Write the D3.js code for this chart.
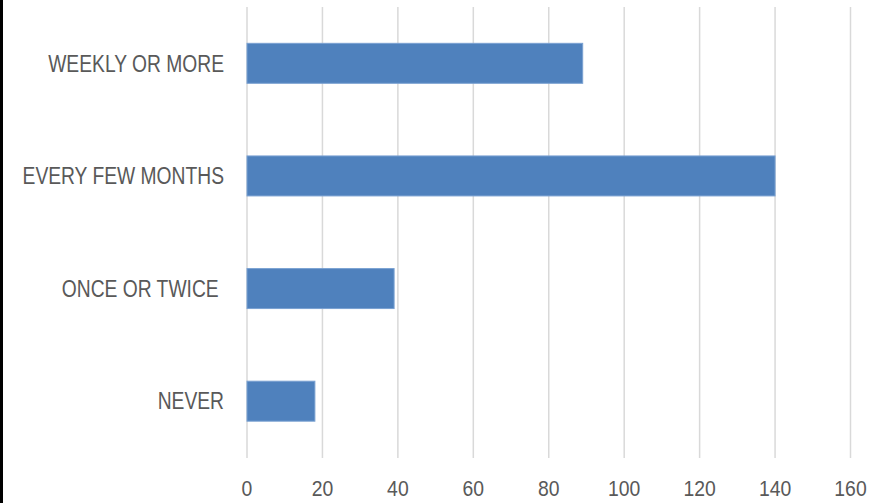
<!DOCTYPE html>
<html>
<head>
<meta charset="utf-8">
<script src="https://cdn.jsdelivr.net/npm/d3@7"></script>
<style>
  body { margin: 0; background: #fff; }
  text { font-family: "Liberation Sans", sans-serif; fill: #595959; white-space: pre; }
</style>
</head>
<body>
<script>
// bar chart data
const categories = ["WEEKLY OR MORE", "EVERY FEW MONTHS", "ONCE OR TWICE ", "NEVER"];
const values = [89, 140, 39, 18];
const ticks = [0, 20, 40, 60, 80, 100, 120, 140, 160];

const width = 889, height = 503;

const svg = d3.select("body").append("svg")
    .attr("width", width)
    .attr("height", height);

// left border line
svg.append("rect")
    .attr("x", 0).attr("y", 0)
    .attr("width", 3).attr("height", height)
    .style("fill", "#000");

const x = d3.scaleLinear().domain([0, 160]).range([247, 850.5]);
const y = d3.scaleBand().domain(categories).range([7, 457.5]).paddingInner(0.645).paddingOuter(0.3225);

svg.selectAll(".grid")
    .data(ticks)
    .enter().append("line")
    .attr("x1", d => x(d))
    .attr("x2", d => x(d))
    .attr("y1", 7)
    .attr("y2", 458)
    .style("stroke", "#d9d9d9")
    .style("stroke-width", 1.5);

svg.selectAll(".bar")
    .data(values)
    .enter().append("rect")
    .attr("x", x(0))
    .attr("y", (d, i) => y(categories[i]))
    .attr("width", d => x(d) - x(0))
    .attr("height", y.bandwidth())
    .style("fill", "#4f81bd")
    .style("stroke", "#7aa1d2")
    .style("stroke-width", 1);

// narrow the glyphs a bit to look like Calibri
svg.selectAll(".cat")
    .data(categories)
    .enter().append("text")
    .attr("transform", d => `translate(224,${y(d) + y.bandwidth() / 2}) scale(0.82,1)`)
    .attr("dy", "0.35em")
    .attr("text-anchor", "end")
    .style("font-size", "23.5px")
    .text(d => d);

svg.selectAll(".tick")
    .data(ticks)
    .enter().append("text")
    .attr("transform", d => `translate(${x(d)},488) scale(0.88,1)`)
    .attr("dy", "0.35em")
    .attr("text-anchor", "middle")
    .style("font-size", "22px")
    .text(d => d);
</script>
</body>
</html>
